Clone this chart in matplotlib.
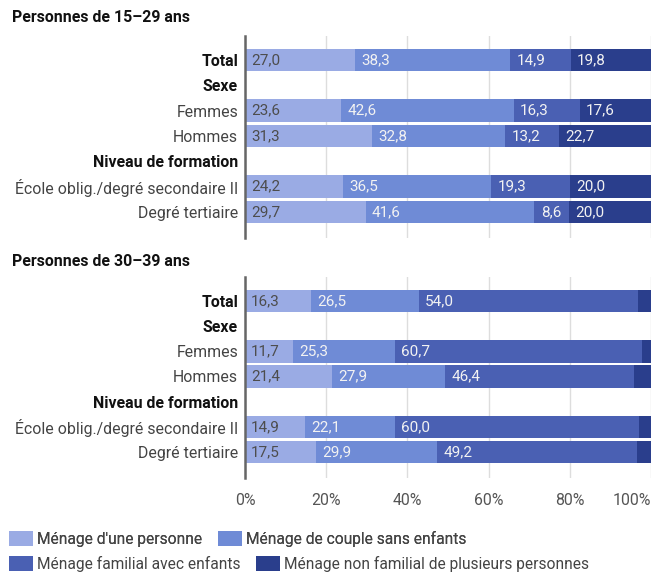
import matplotlib.pyplot as plt
from matplotlib.patches import Patch

plt.rcParams['font.family'] = ['Roboto', 'DejaVu Sans']

# données
rows = ['Total', 'Sexe', 'Femmes', 'Hommes', 'Niveau de formation',
        'École oblig./degré secondaire II', 'Degré tertiaire']
headers = ['Total', 'Sexe', 'Niveau de formation']
series = ['Ménage d\'une personne', 'Ménage de couple sans enfants',
          'Ménage familial avec enfants', 'Ménage non familial de plusieurs personnes']
colors = ['#9aabe4', '#6f8bd6', '#4a60b3', '#2a3e8c']
xticks = [0, 20, 40, 60, 80, 100]
xticklabels = ['0%', '20%', '40%', '60%', '80%', '100%']

# 15-29 ans (None = ligne de titre sans barre)
young_one = [27.0, None, 23.6, 31.3, None, 24.2, 29.7]
young_couple = [38.3, None, 42.6, 32.8, None, 36.5, 41.6]
young_family = [14.9, None, 16.3, 13.2, None, 19.3, 8.6]
young_other = [19.8, None, 17.6, 22.7, None, 20.0, 20.0]

# 30-39 ans
adult_one = [16.3, None, 11.7, 21.4, None, 14.9, 17.5]
adult_couple = [26.5, None, 25.3, 27.9, None, 22.1, 29.9]
adult_family = [54.0, None, 60.7, 46.4, None, 60.0, 49.2]
adult_other = [3.2, None, 2.3, 4.3, None, 3.0, 3.4]

panels = [
    ('Personnes de 15–29 ans', [young_one, young_couple, young_family, young_other]),
    ('Personnes de 30–39 ans', [adult_one, adult_couple, adult_family, adult_other]),
]

fig = plt.figure(figsize=(6.54, 5.72), dpi=100)
W, H = 654, 572
ax_boxes = [(36, 238), (277, 478)]
title_y = [18, 262]
left_px, right_px = 245, 651

for (title, data), (top, bottom), ty in zip(panels, ax_boxes, title_y):
    ax = fig.add_axes([left_px / W, 1 - bottom / H, (right_px - left_px) / W, (bottom - top) / H])
    fig.text(12 / W, 1 - ty / H, title, fontsize=11.4, fontweight='bold', va='center', ha='left', color='#111')
    for i in range(len(rows)):
        if data[0][i] is None:
            continue
        start = 0
        for k, vals in enumerate(data):
            v = vals[i]
            ax.barh(i, v, left=start, height=0.9, color=colors[k], linewidth=0, zorder=2)
            if v >= 5:
                ax.annotate(f'{v:.1f}'.replace('.', ','), (start, i), xytext=(4.5, 0),
                            textcoords='offset points', va='center', ha='left', fontsize=11,
                            color='#4d4d4d' if k == 0 else '#f2f2f2', zorder=3)
            start += v
    ax.set_xlim(0, 100)
    ax.set_ylim(7.03, -0.95)
    ax.set_yticks(range(len(rows)))
    ax.set_yticklabels(rows, fontsize=11.4, color='#444')
    for lab in ax.get_yticklabels():
        if lab.get_text() in headers:
            lab.set_fontweight('bold')
            lab.set_color('#111')
    ax.tick_params(axis='y', length=0, pad=5)
    ax.set_xticks(xticks)
    ax.grid(axis='x', color='#dddddd', linewidth=1, zorder=0)
    for s in ['top', 'right', 'bottom']:
        ax.spines[s].set_visible(False)
    ax.spines['left'].set_color('#666666')
    ax.spines['left'].set_linewidth(1.8)
    ax.spines['left'].set_zorder(4)
    if bottom == 478:
        ax.set_xticklabels(xticklabels, fontsize=11.4, color='#555')
        ax.get_xticklabels()[-1].set_horizontalalignment('right')
        ax.tick_params(axis='x', length=0, pad=11)
    else:
        ax.tick_params(axis='x', length=0, labelbottom=False)

handles = [Patch(facecolor=c, edgecolor='none') for c in colors]
leg_kw = dict(ncol=2, loc='upper left', frameon=False, fontsize=11.2, handlelength=1.55,
              handleheight=1.1, handletextpad=0.25, columnspacing=1.0, labelcolor='#444',
              borderaxespad=0, borderpad=0.2)
leg1 = fig.legend(handles[:2], series[:2], bbox_to_anchor=(6 / W, 1 - 528 / H), **leg_kw)
fig.add_artist(leg1)
fig.legend(handles[2:], series[2:], bbox_to_anchor=(6 / W, 1 - 553 / H), **leg_kw)

fig.savefig('out.png', dpi=100)
